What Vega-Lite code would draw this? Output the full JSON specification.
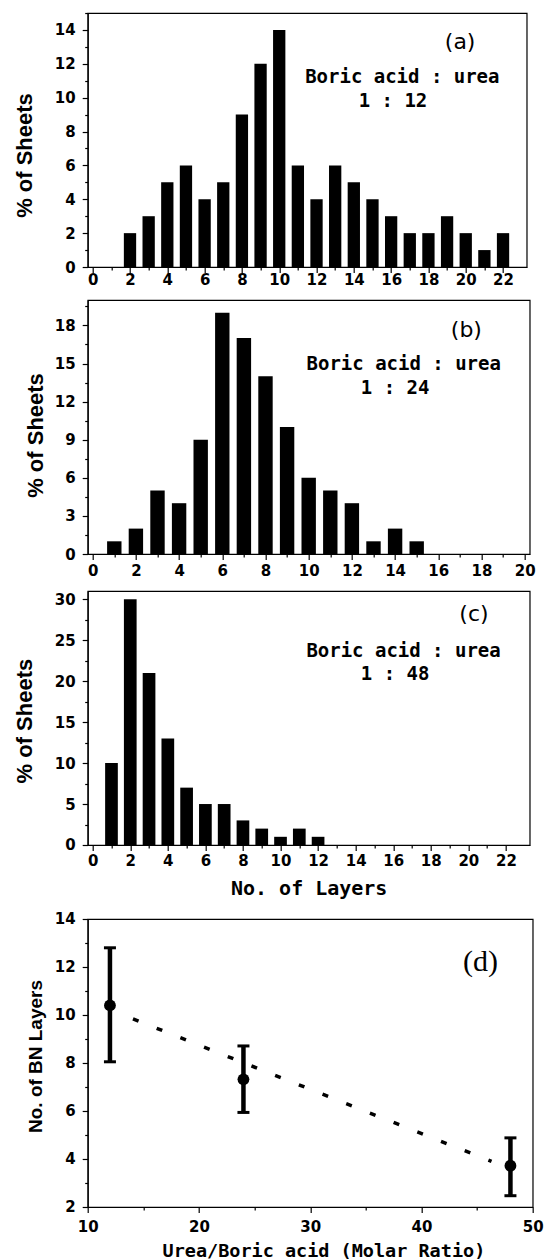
{
  "$schema": "https://vega.github.io/schema/vega-lite/v6.json",
  "background": "white",
  "padding": {"left": 12.7, "top": 11, "right": 5, "bottom": 0},
  "spacing": 11,
  "align": "each",
  "bounds": "full",
  "datasets": {
    "a": [
      {"layers": 2, "pct": 2}, {"layers": 3, "pct": 3}, {"layers": 4, "pct": 5}, {"layers": 5, "pct": 6},
      {"layers": 6, "pct": 4}, {"layers": 7, "pct": 5}, {"layers": 8, "pct": 9}, {"layers": 9, "pct": 12},
      {"layers": 10, "pct": 14}, {"layers": 11, "pct": 6}, {"layers": 12, "pct": 4}, {"layers": 13, "pct": 6},
      {"layers": 14, "pct": 5}, {"layers": 15, "pct": 4}, {"layers": 16, "pct": 3}, {"layers": 17, "pct": 2},
      {"layers": 18, "pct": 2}, {"layers": 19, "pct": 3}, {"layers": 20, "pct": 2}, {"layers": 21, "pct": 1},
      {"layers": 22, "pct": 2}
    ],
    "b": [
      {"layers": 1, "pct": 1}, {"layers": 2, "pct": 2}, {"layers": 3, "pct": 5}, {"layers": 4, "pct": 4},
      {"layers": 5, "pct": 9}, {"layers": 6, "pct": 19}, {"layers": 7, "pct": 17}, {"layers": 8, "pct": 14},
      {"layers": 9, "pct": 10}, {"layers": 10, "pct": 6}, {"layers": 11, "pct": 5}, {"layers": 12, "pct": 4},
      {"layers": 13, "pct": 1}, {"layers": 14, "pct": 2}, {"layers": 15, "pct": 1}
    ],
    "c": [
      {"layers": 1, "pct": 10}, {"layers": 2, "pct": 30}, {"layers": 3, "pct": 21}, {"layers": 4, "pct": 13},
      {"layers": 5, "pct": 7}, {"layers": 6, "pct": 5}, {"layers": 7, "pct": 5}, {"layers": 8, "pct": 3},
      {"layers": 9, "pct": 2}, {"layers": 10, "pct": 1}, {"layers": 11, "pct": 2}, {"layers": 12, "pct": 1}
    ],
    "d": [
      {"ratio": 12, "layers": 10.4, "lo": 8.05, "hi": 12.8},
      {"ratio": 24, "layers": 7.32, "lo": 5.94, "hi": 8.71},
      {"ratio": 48, "layers": 3.72, "lo": 2.47, "hi": 4.88}
    ],
    "fit": [
      {"ratio": 14.07, "layers": 9.84},
      {"ratio": 46.3, "layers": 3.9}
    ]
  },
  "vconcat": [
    {
      "width": 439, "height": 254,
      "resolve": {"axis": {"x": "independent", "y": "independent"}},
      "layer": [
        {
          "data": {"name": "a"},
          "mark": {"type": "bar", "color": "black", "width": 12.3, "orient": "vertical"},
          "encoding": {
            "x": {"field": "layers", "type": "quantitative",
              "scale": {"domain": [0, 23], "nice": false, "zero": false},
              "axis": {"title": null, "orient": "bottom", "values": [0,2,4,6,8,10,12,14,16,18,20,22], "labelPadding": -0.5,
                "labelFont": "DejaVu Sans", "labelFontSize": 15, "labelFontWeight": "bold", "labelColor": "black", "labelOverlap": false, "labelFlush": false}},
            "y": {"field": "pct", "type": "quantitative",
              "scale": {"domain": [0, 15], "nice": false},
              "axis": {"title": "% of Sheets", "orient": "left", "values": [0,2,4,6,8,10,12,14],
                "labelFont": "DejaVu Sans", "labelFontSize": 15, "labelFontWeight": "bold", "labelColor": "black", "labelOverlap": false, "labelFlush": false, "labelPadding": 7,
                "titleFont": "Liberation Sans", "titleFontSize": 22, "titleFontWeight": "bold", "titleBaseline": "middle", "titleAngle": -90,
                "titleX": -63.3, "titleY": 142}}
          }
        },
        {"data": {"values": [{}]}, "mark": {"type": "text", "text": "(a)", "font": "DejaVu Sans", "fontSize": 22, "color": "black"},
          "encoding": {
            "x": {"datum": 19.7, "axis": {"orient": "bottom", "title": null, "labels": false, "domain": false, "tickSize": 3, "values": [1,3,5,7,9,11,13,15,17,19,21]}},
            "y": {"datum": 13.26, "axis": {"orient": "left", "title": null, "labels": false, "domain": false, "tickSize": 3, "values": [1,3,5,7,9,11,13,15]}}}},
        {"data": {"values": [{}]}, "mark": {"type": "text", "text": "Boric acid : urea", "font": "DejaVu Sans Mono", "fontSize": 19, "fontWeight": "bold", "color": "black"},
          "encoding": {"x": {"datum": 16.6, "axis": null}, "y": {"datum": 11.24, "axis": null}}},
        {"data": {"values": [{}]}, "mark": {"type": "text", "text": "1 : 12", "font": "DejaVu Sans Mono", "fontSize": 19, "fontWeight": "bold", "color": "black"},
          "encoding": {"x": {"datum": 16.1, "axis": null}, "y": {"datum": 9.82, "axis": null}}}
      ]
    },
    {
      "width": 442, "height": 254,
      "resolve": {"axis": {"x": "independent", "y": "independent"}},
      "layer": [
        {
          "data": {"name": "b"},
          "mark": {"type": "bar", "color": "black", "width": 14.4, "orient": "vertical"},
          "encoding": {
            "x": {"field": "layers", "type": "quantitative",
              "scale": {"domain": [0, 20], "nice": false, "zero": false},
              "axis": {"title": null, "orient": "bottom", "values": [0,2,4,6,8,10,12,14,16,18,20], "labelPadding": 3.5,
                "labelFont": "DejaVu Sans", "labelFontSize": 15, "labelFontWeight": "bold", "labelColor": "black", "labelOverlap": false, "labelFlush": false}},
            "y": {"field": "pct", "type": "quantitative",
              "scale": {"domain": [0, 20], "nice": false},
              "axis": {"title": "% of Sheets", "orient": "left", "values": [0,3,6,9,12,15,18],
                "labelFont": "DejaVu Sans", "labelFontSize": 15, "labelFontWeight": "bold", "labelColor": "black", "labelOverlap": false, "labelFlush": false, "labelPadding": 7,
                "titleFont": "Liberation Sans", "titleFontSize": 22, "titleFontWeight": "bold", "titleBaseline": "middle", "titleAngle": -90,
                "titleX": -51.7, "titleY": 135}}
          }
        },
        {"data": {"values": [{}]}, "mark": {"type": "text", "text": "(b)", "font": "DejaVu Sans", "fontSize": 22, "color": "black"},
          "encoding": {
            "x": {"datum": 17.3, "axis": {"orient": "bottom", "title": null, "labels": false, "domain": false, "tickSize": 3, "values": [1,3,5,7,9,11,13,15,17,19]}},
            "y": {"datum": 17.6, "axis": {"orient": "left", "title": null, "labels": false, "domain": false, "tickSize": 3, "values": [1.5,4.5,7.5,10.5,13.5,16.5,19.5]}}}},
        {"data": {"values": [{}]}, "mark": {"type": "text", "text": "Boric acid : urea", "font": "DejaVu Sans Mono", "fontSize": 19, "fontWeight": "bold", "color": "black"},
          "encoding": {"x": {"datum": 14.4, "axis": null}, "y": {"datum": 15.0, "axis": null}}},
        {"data": {"values": [{}]}, "mark": {"type": "text", "text": "1 : 24", "font": "DejaVu Sans Mono", "fontSize": 19, "fontWeight": "bold", "color": "black"},
          "encoding": {"x": {"datum": 14.0, "axis": null}, "y": {"datum": 13.1, "axis": null}}}
      ]
    },
    {
      "width": 442, "height": 254,
      "resolve": {"axis": {"x": "independent", "y": "independent"}},
      "layer": [
        {
          "data": {"name": "c"},
          "mark": {"type": "bar", "color": "black", "width": 12.7, "orient": "vertical"},
          "encoding": {
            "x": {"field": "layers", "type": "quantitative",
              "scale": {"domain": [0, 23], "nice": false, "zero": false},
              "axis": {"title": "No. of Layers", "orient": "bottom", "values": [0,2,4,6,8,10,12,14,16,18,20,22],
                "labelFont": "DejaVu Sans", "labelFontSize": 15, "labelFontWeight": "bold", "labelColor": "black", "labelOverlap": false, "labelFlush": false,
                "labelPadding": 3, "titleFont": "DejaVu Sans Mono", "titleFontSize": 20, "titleFontWeight": "bold", "titleBaseline": "middle", "titleY": 43.5}},
            "y": {"field": "pct", "type": "quantitative",
              "scale": {"domain": [0, 31], "nice": false},
              "axis": {"title": "% of Sheets", "orient": "left", "values": [0,5,10,15,20,25,30],
                "labelFont": "DejaVu Sans", "labelFontSize": 15, "labelFontWeight": "bold", "labelColor": "black", "labelOverlap": false, "labelFlush": false, "labelPadding": 7,
                "titleFont": "Liberation Sans", "titleFontSize": 22, "titleFontWeight": "bold", "titleBaseline": "middle", "titleAngle": -90,
                "titleX": -63.3, "titleY": 129.6}}
          }
        },
        {"data": {"values": [{}]}, "mark": {"type": "text", "text": "(c)", "font": "DejaVu Sans", "fontSize": 22, "color": "black"},
          "encoding": {
            "x": {"datum": 20.3, "axis": {"orient": "bottom", "title": null, "labels": false, "domain": false, "tickSize": 3, "values": [1,3,5,7,9,11,13,15,17,19,21]}},
            "y": {"datum": 28.2, "axis": {"orient": "left", "title": null, "labels": false, "domain": false, "tickSize": 3, "values": [2.5,7.5,12.5,17.5,22.5,27.5]}}}},
        {"data": {"values": [{}]}, "mark": {"type": "text", "text": "Boric acid : urea", "font": "DejaVu Sans Mono", "fontSize": 19, "fontWeight": "bold", "color": "black"},
          "encoding": {"x": {"datum": 16.55, "axis": null}, "y": {"datum": 23.7, "axis": null}}},
        {"data": {"values": [{}]}, "mark": {"type": "text", "text": "1 : 48", "font": "DejaVu Sans Mono", "fontSize": 19, "fontWeight": "bold", "color": "black"},
          "encoding": {"x": {"datum": 16.1, "axis": null}, "y": {"datum": 20.9, "axis": null}}}
      ]
    },
    {
      "width": 445, "height": 288,
      "resolve": {"axis": {"x": "independent", "y": "independent"}},
      "layer": [
        {
          "data": {"name": "fit"},
          "mark": {"type": "line", "color": "black", "strokeWidth": 3.5, "strokeDash": [6, 19.5]},
          "encoding": {
            "x": {"field": "ratio", "type": "quantitative",
              "scale": {"domain": [10, 50], "nice": false, "zero": false},
              "axis": {"title": "Urea/Boric acid (Molar Ratio)", "orient": "bottom", "values": [10,20,30,40,50],
                "labelFont": "DejaVu Sans", "labelFontSize": 15, "labelFontWeight": "bold", "labelColor": "black", "labelOverlap": false, "labelFlush": false,
                "labelPadding": 7, "titleFont": "DejaVu Sans Mono", "titleFontSize": 18.5, "titleFontWeight": "bold", "titleBaseline": "middle", "titleX": 235.7, "titleY": 43.5}},
            "y": {"field": "layers", "type": "quantitative",
              "scale": {"domain": [2, 14], "nice": false, "zero": false},
              "axis": {"title": "No. of BN Layers", "orient": "left", "values": [2,4,6,8,10,12,14],
                "labelFont": "DejaVu Sans", "labelFontSize": 15, "labelFontWeight": "bold", "labelColor": "black", "labelOverlap": false, "labelFlush": false, "labelPadding": 7,
                "titleFont": "Liberation Sans", "titleFontSize": 19, "titleFontWeight": "bold", "titleBaseline": "middle", "titleAngle": -90,
                "titleX": -51.8, "titleY": 137}}
          }
        },
        {
          "data": {"name": "d"},
          "mark": {"type": "rule", "color": "black", "strokeWidth": 4.5},
          "encoding": {
            "x": {"field": "ratio", "type": "quantitative", "axis": null},
            "y": {"field": "lo", "type": "quantitative", "axis": null},
            "y2": {"field": "hi"}
          }
        },
        {
          "data": {"name": "d"},
          "mark": {"type": "tick", "color": "black", "opacity": 1, "orient": "horizontal", "size": 12, "thickness": 3},
          "encoding": {
            "x": {"field": "ratio", "type": "quantitative", "axis": null},
            "y": {"field": "lo", "type": "quantitative", "axis": null}
          }
        },
        {
          "data": {"name": "d"},
          "mark": {"type": "tick", "color": "black", "opacity": 1, "orient": "horizontal", "size": 12, "thickness": 3},
          "encoding": {
            "x": {"field": "ratio", "type": "quantitative", "axis": null},
            "y": {"field": "hi", "type": "quantitative", "axis": null}
          }
        },
        {
          "data": {"name": "d"},
          "mark": {"type": "point", "filled": true, "color": "black", "opacity": 1, "size": 140, "shape": "circle"},
          "encoding": {
            "x": {"field": "ratio", "type": "quantitative", "axis": null},
            "y": {"field": "layers", "type": "quantitative", "axis": null}
          }
        },
        {"data": {"values": [{}]}, "mark": {"type": "text", "text": "(d)", "font": "Liberation Serif", "fontSize": 30, "color": "black"},
          "encoding": {
            "x": {"datum": 45.3, "axis": {"orient": "bottom", "title": null, "labels": false, "domain": false, "tickSize": 3, "values": [15,25,35,45]}},
            "y": {"datum": 12.2, "axis": {"orient": "left", "title": null, "labels": false, "domain": false, "tickSize": 3, "values": [3,5,7,9,11,13]}}}}
      ]
    }
  ],
  "config": {
    "view": {"stroke": "black", "strokeWidth": 1.2},
    "axis": {
      "grid": false,
      "domainColor": "black", "domainWidth": 1.2,
      "tickColor": "black", "tickWidth": 1.2, "tickSize": 5.5,
      "titleColor": "black"
    }
  }
}
